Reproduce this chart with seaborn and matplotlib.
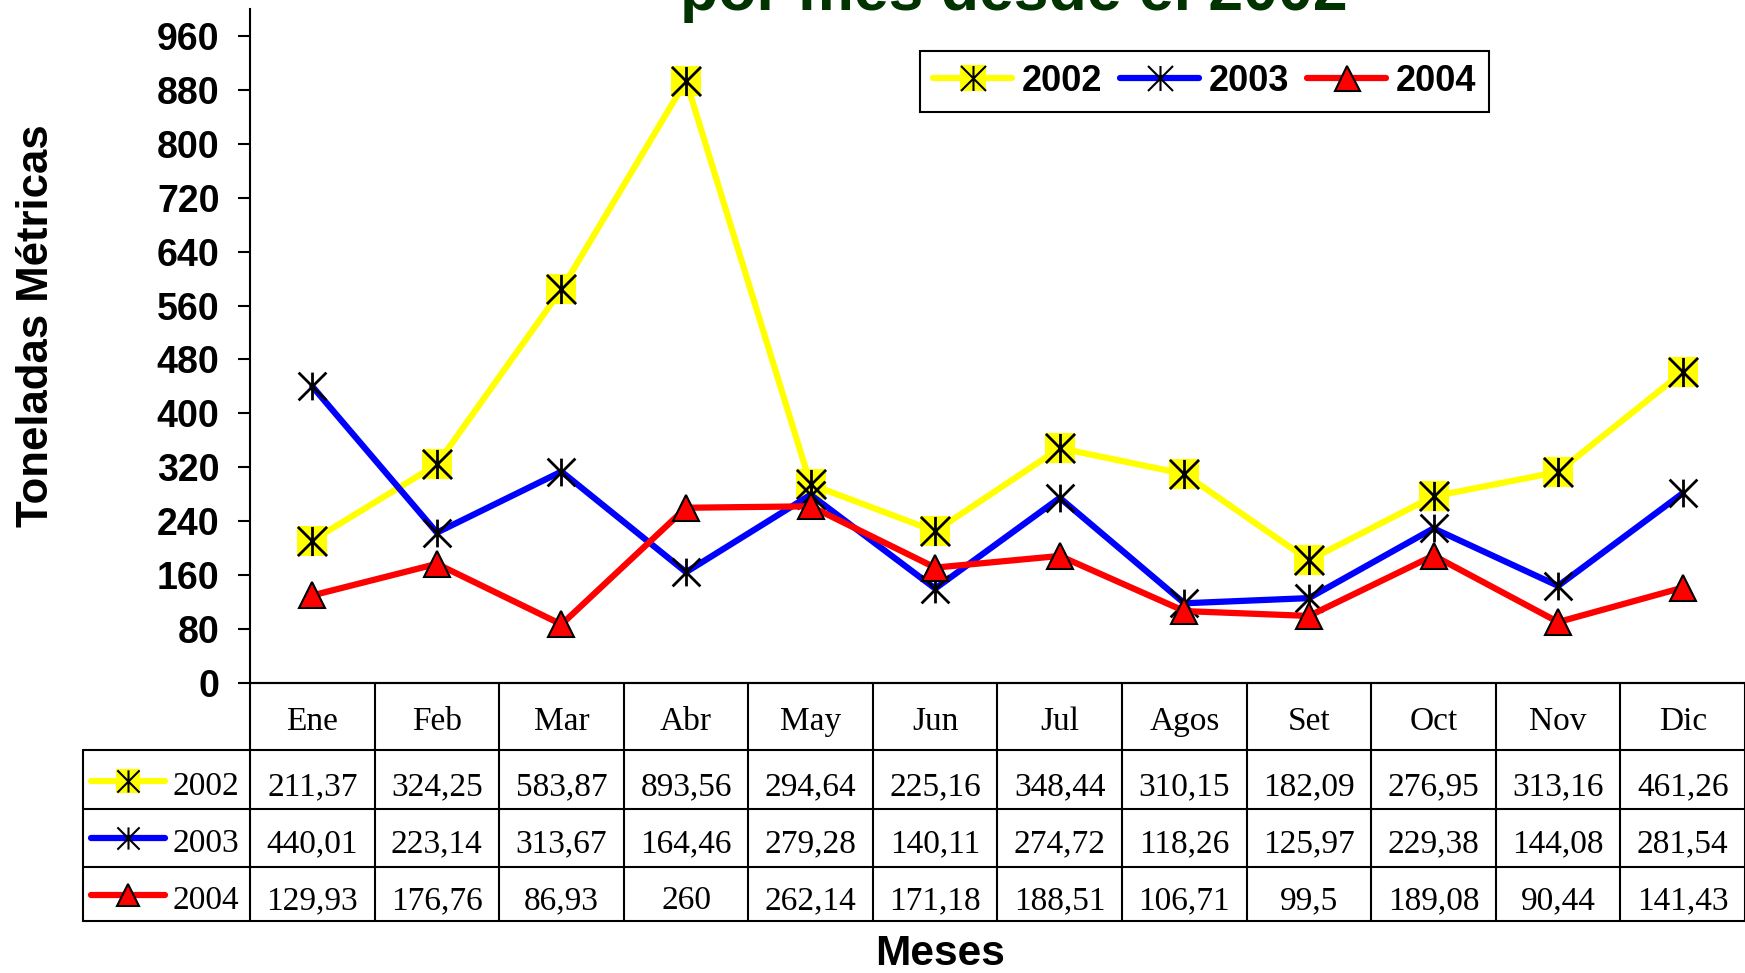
import numpy as np
import pandas as pd
import seaborn as sns
import matplotlib
matplotlib.use('Agg')
from matplotlib import pyplot as plt
from matplotlib.path import Path
from matplotlib.lines import Line2D
from matplotlib.transforms import blended_transform_factory

meses = ['Ene', 'Feb', 'Mar', 'Abr', 'May', 'Jun', 'Jul', 'Agos', 'Set', 'Oct', 'Nov', 'Dic']
t2002 = [211.37, 324.25, 583.87, 893.56, 294.64, 225.16, 348.44, 310.15, 182.09, 276.95, 313.16, 461.26]
t2003 = [440.01, 223.14, 313.67, 164.46, 279.28, 140.11, 274.72, 118.26, 125.97, 229.38, 144.08, 281.54]
t2004 = [129.93, 176.76, 86.93, 260, 262.14, 171.18, 188.51, 106.71, 99.5, 189.08, 90.44, 141.43]
anios = ['2002', '2003', '2004']
colores = ['#FFFF00', '#0000FF', '#FF0000']
yticks = list(range(0, 961, 80))

sns.set_theme(style='white')
plt.rcParams['font.family'] = ['Liberation Sans', 'DejaVu Sans']
for k in ['text.color', 'axes.labelcolor', 'xtick.color', 'ytick.color', 'axes.edgecolor']:
    plt.rcParams[k] = 'black'

W, H = 1745, 973
fig = plt.figure(figsize=(W / 100, H / 100), dpi=100)


def fx(px):
    return px / W


def fy(py):
    return 1 - py / H


ax = fig.add_axes([fx(250), fy(683), fx(1745) - fx(250), fy(9) - fy(683)])

# asterisco estilo Excel: linea vertical + X
asterisco = Path([(0, -1), (0, 1), (-1, -1), (1, 1), (-1, 1), (1, -1)],
                 [Path.MOVETO, Path.LINETO, Path.MOVETO, Path.LINETO, Path.MOVETO, Path.LINETO])

df = pd.DataFrame({'mes': np.arange(len(meses)), '2002': t2002, '2003': t2003, '2004': t2004})
lw = 4.5

sns.lineplot(data=df, x='mes', y='2002', color=colores[0], lw=lw, marker='s', markersize=22,
             markeredgewidth=0, markerfacecolor=colores[0], ax=ax, zorder=3)
sns.lineplot(data=df, x='mes', y='2002', linestyle='none', marker=asterisco, markersize=21,
             markeredgecolor='black', markeredgewidth=2, ax=ax, zorder=3.1)
sns.lineplot(data=df, x='mes', y='2003', color=colores[1], lw=lw, marker=asterisco, markersize=20,
             markeredgecolor='black', markeredgewidth=2, ax=ax, zorder=4)
sns.lineplot(data=df, x='mes', y='2004', color=colores[2], lw=lw, marker='^', markersize=19,
             markerfacecolor=colores[2], markeredgecolor='black', markeredgewidth=1.5, ax=ax, zorder=5)

ax.set_xlim(-0.5, len(meses) - 0.5)
ax.set_ylim(0, 1000)
ax.set_yticks(yticks)
ax.set_xticks([])
ax.set_xlabel('')
ax.set_ylabel('')
sns.despine(ax=ax)
for s in ['left', 'bottom']:
    ax.spines[s].set_linewidth(1.5)
    ax.spines[s].set_color('black')
ax.tick_params(axis='y', left=True, length=9, width=1.5, pad=13, labelsize=27, direction='out')
for lbl in ax.get_yticklabels():
    lbl.set_fontweight('bold')


def handles_for(ms, ams):
    h1 = (Line2D([], [], color=colores[0], lw=lw, marker='s', markersize=ms, markeredgewidth=0,
                 markerfacecolor=colores[0]),
          Line2D([], [], linestyle='none', marker=asterisco, markersize=ams,
                 markeredgecolor='black', markeredgewidth=1.5))
    h2 = Line2D([], [], color=colores[1], lw=lw, marker=asterisco, markersize=ams,
                markeredgecolor='black', markeredgewidth=1.5)
    h3 = Line2D([], [], color=colores[2], lw=lw, marker='^', markersize=ams,
                markerfacecolor=colores[2], markeredgecolor='black', markeredgewidth=1.5)
    return [h1, h2, h3]


leg = ax.legend(handles_for(19, 18), anios, ncol=3, loc='upper left',
                bbox_to_anchor=(fx(920), fy(51)), bbox_transform=fig.transFigure,
                borderaxespad=0, frameon=True, fancybox=False, edgecolor='black', framealpha=1,
                prop={'weight': 'bold', 'size': 26}, handlelength=2.2, handletextpad=0.25,
                columnspacing=0.5, borderpad=0.36)
leg.get_frame().set_linewidth(1.5)

# titulo (cortado arriba como en el original)
fig.text(fx(1014), fy(10), 'por mes desde el 2002', ha='center', va='baseline',
         fontsize=45, fontweight='bold', color='#003300')

fig.text(fx(37), fy(326), 'Toneladas Métricas', rotation=90, ha='center', va='center',
         fontsize=31.5, fontweight='bold')
fig.text(fx(940), fy(954), 'Meses', ha='center', va='center', fontsize=30.5, fontweight='bold')

# tabla de datos
trans = blended_transform_factory(ax.transData, fig.transFigure)
filas = [683, 750, 809, 867, 921]
lk = dict(color='black', lw=1.5)
fig.add_artist(Line2D([fx(250), fx(1745)], [fy(683)] * 2, **lk))
for py in filas[1:]:
    fig.add_artist(Line2D([fx(83), fx(1745)], [fy(py)] * 2, **lk))
fig.add_artist(Line2D([fx(83)] * 2, [fy(750), fy(921)], **lk))
for i in range(len(meses) + 1):
    ax.plot([i - 0.5, i - 0.5], [fy(683), fy(921)], transform=trans, clip_on=False, **lk)

serif = dict(family=['Liberation Serif', 'DejaVu Serif'], fontsize=24, fontweight='normal')
for i, m in enumerate(meses):
    ax.text(i, fy(730), m, transform=trans, ha='center', va='baseline', **serif)

base = [795, 852, 909]
centros = [781, 838, 895]
series = [t2002, t2003, t2004]
keys = handles_for(17, 16)
for j, (anio, vals) in enumerate(zip(anios, series)):
    for i, v in enumerate(vals):
        ax.text(i, fy(base[j]), f'{v:g}'.replace('.', ','), transform=trans,
                ha='center', va='baseline', **serif)
    fig.text(fx(172), fy(base[j]), anio, ha='left', va='baseline', **serif)
    k = keys[j]
    parts = k if isinstance(k, tuple) else (k,)
    for n, p in enumerate(parts):
        fig.add_artist(Line2D([fx(91), fx(165)], [fy(centros[j])] * 2, color=p.get_color(),
                              lw=lw if n == 0 else 0, linestyle='-' if n == 0 else 'none'))
        fig.add_artist(Line2D([fx(128)], [fy(centros[j])], linestyle='none', marker=p.get_marker(),
                              markersize=p.get_markersize(), markerfacecolor=p.get_markerfacecolor(),
                              markeredgecolor=p.get_markeredgecolor(),
                              markeredgewidth=p.get_markeredgewidth()))

fig.savefig('out.png', dpi=100)
